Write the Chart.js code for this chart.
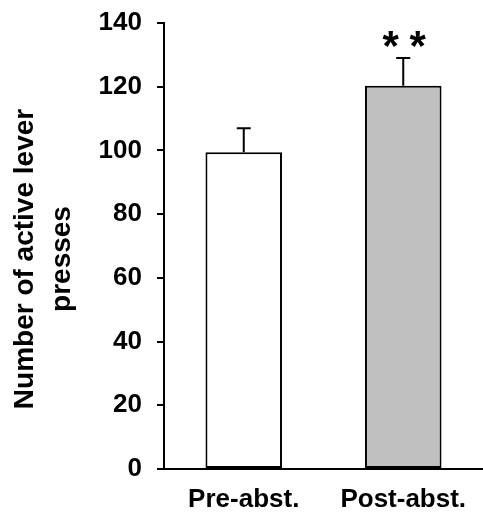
<!DOCTYPE html>
<html>
<head>
<meta charset="utf-8">
<script src="https://cdn.jsdelivr.net/npm/chart.js@4/dist/chart.umd.min.js"></script>
<style>
    html, body { margin: 0; padding: 0; background: #fff; }
    #wrap { width: 483px; height: 523px; }
</style>
</head>
<body>
<div id="wrap"><canvas id="myChart" width="483" height="523"></canvas></div>
<script>
const categories = ["Pre-abst.", "Post-abst."];
const means = [99.4, 120.3];
const sems = [7.6, 8.7];
const marks = ["", "**"];
const barColors = ["#ffffff", "#c0c0c0"];
const yTitle = ["Number of active lever", "presses"];

const FONT = "'Liberation Sans', Arial, sans-serif";

// upward-only error bars plus significance stars
const errorBars = {
    id: "errorBars",
    afterDatasetsDraw(chart) {
        const ctx = chart.ctx;
        const y = chart.scales.y;
        const meta = chart.getDatasetMeta(0);
        ctx.save();
        ctx.strokeStyle = "#000";
        ctx.lineWidth = 2;
        meta.data.forEach((bar, i) => {
            const top = y.getPixelForValue(means[i] + sems[i]);
            const base = y.getPixelForValue(means[i]);
            ctx.beginPath();
            ctx.moveTo(bar.x, base);
            ctx.lineTo(bar.x, top);
            ctx.moveTo(bar.x - 7, top);
            ctx.lineTo(bar.x + 7, top);
            ctx.stroke();
            if (marks[i]) {
                ctx.fillStyle = "#000";
                ctx.font = "bold 42px " + FONT;
                ctx.textAlign = "center";
                ctx.textBaseline = "middle";
                const n = marks[i].length;
                for (let k = 0; k < n; ++k) {
                    const dx = (k - (n - 1) / 2) * 27;
                    ctx.fillText("*", bar.x + dx + 1, top - 10);
                }
            }
        });
        ctx.restore();
    },
};

// two-line rotated y title, placed a bit below the axis middle
const sideTitle = {
    id: "sideTitle",
    afterDraw(chart) {
        const ctx = chart.ctx;
        ctx.save();
        ctx.font = "bold 28px " + FONT;
        ctx.fillStyle = "#000";
        ctx.textAlign = "center";
        ctx.textBaseline = "middle";
        ctx.translate(0, 259);
        ctx.rotate(-Math.PI / 2);
        yTitle.forEach((line, i) => ctx.fillText(line, 0, 25 + i * 37));
        ctx.restore();
    },
};

function main() {
    const ctx = document.getElementById("myChart");

    new Chart(ctx, {
        type: "bar",
        data: {
            labels: categories,
            datasets: [
                {
                    data: means,
                    backgroundColor: barColors,
                    borderColor: "#000",
                    borderWidth: 2,
                    borderSkipped: false,
                    barPercentage: 0.48,
                    categoryPercentage: 1,
                },
            ],
        },
        options: {
            responsive: false,
            animation: false,
            layout: {
                padding: { top: 23, right: 0, bottom: 0, left: 0 },
            },
            plugins: {
                legend: { display: false },
                tooltip: { enabled: false },
            },
            scales: {
                x: {
                    afterFit: (s) => {
                        s.height = 54;
                        s.paddingLeft = 0;
                        s.paddingRight = 0;
                    },
                    grid: { display: false, drawTicks: false },
                    border: { display: true, color: "#000", width: 2 },
                    ticks: {
                        color: "#000",
                        padding: 15,
                        font: { family: FONT, size: 26, weight: "bold" },
                    },
                },
                y: {
                    min: 0,
                    max: 140,
                    afterFit: (s) => {
                        s.width = 164;
                        s.paddingTop = 0;
                        s.paddingBottom = 0;
                    },
                    grid: {
                        display: true,
                        drawOnChartArea: false,
                        drawTicks: true,
                        tickLength: 7,
                        color: "#000",
                        lineWidth: 2,
                    },
                    border: { display: true, color: "#000", width: 2 },
                    ticks: {
                        stepSize: 20,
                        color: "#000",
                        padding: 15,
                        font: { family: FONT, size: 26, weight: "bold" },
                    },
                },
            },
        },
        plugins: [errorBars, sideTitle],
    });
}

main();
</script>
</body>
</html>
